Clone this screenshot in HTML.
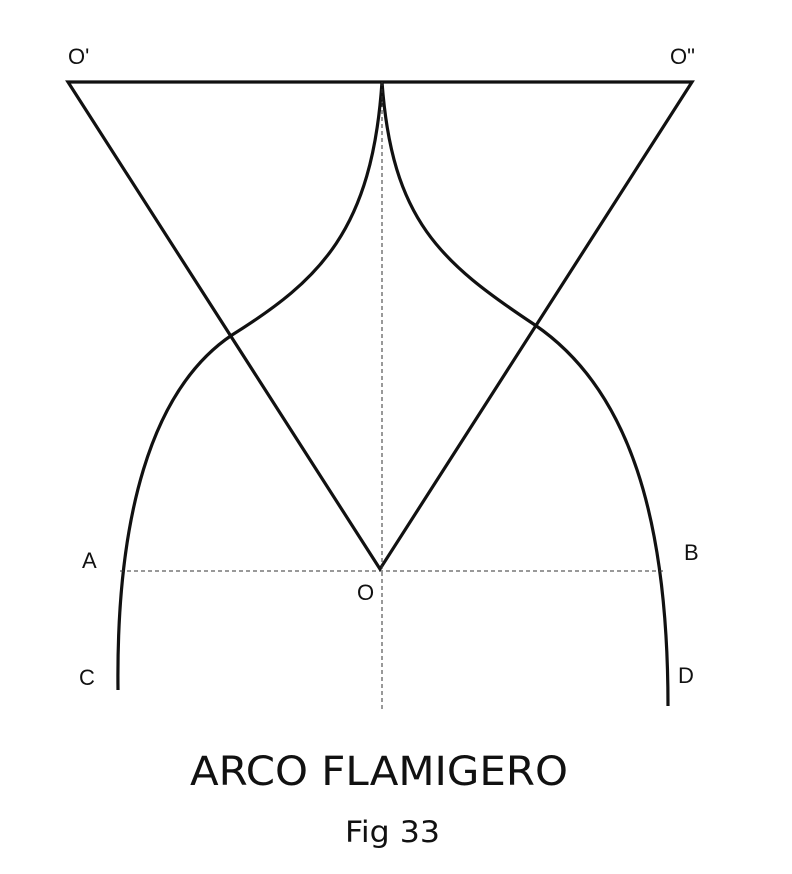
<!DOCTYPE html>
<html><head><meta charset="utf-8"><style>
html,body{margin:0;padding:0;background:#fff;}
svg{display:block;}
</style></head><body>
<svg width="792" height="874" viewBox="0 0 792 874" xmlns="http://www.w3.org/2000/svg">
<rect width="792" height="874" fill="#fff"/>
<g stroke="#111" fill="none" stroke-width="3.2" stroke-linejoin="miter">
<polygon points="68,82 692,82 380,569"/>
<path d="M118,690 C116,520 150,390 232,335 C320,280 372,230 382,82"/>
<path d="M668,706 C668,520 630,390 535,325 C440,262 392,220 382,82"/>
</g>
<g stroke="#333" stroke-width="1" stroke-dasharray="4,3" fill="none">
<line x1="120" y1="571" x2="666" y2="571"/>
<line x1="382" y1="82" x2="382" y2="710"/>
</g>
<g font-family="'Liberation Sans', sans-serif" font-size="22" fill="#111">
<text x="68" y="64">O'</text>
<text x="670" y="64">O"</text>
<text x="82" y="568">A</text>
<text x="684" y="560">B</text>
<text x="357" y="600">O</text>
<text x="79" y="685">C</text>
<text x="678" y="683">D</text>
</g>
<text x="190" y="785" textLength="378" lengthAdjust="spacingAndGlyphs" font-family="'DejaVu Sans', sans-serif" font-size="40" fill="#111">ARCO FLAMIGERO</text>
<text x="345" y="842" textLength="95" lengthAdjust="spacingAndGlyphs" font-family="'DejaVu Sans', sans-serif" font-size="29" fill="#111">Fig 33</text>
</svg>
</body></html>
